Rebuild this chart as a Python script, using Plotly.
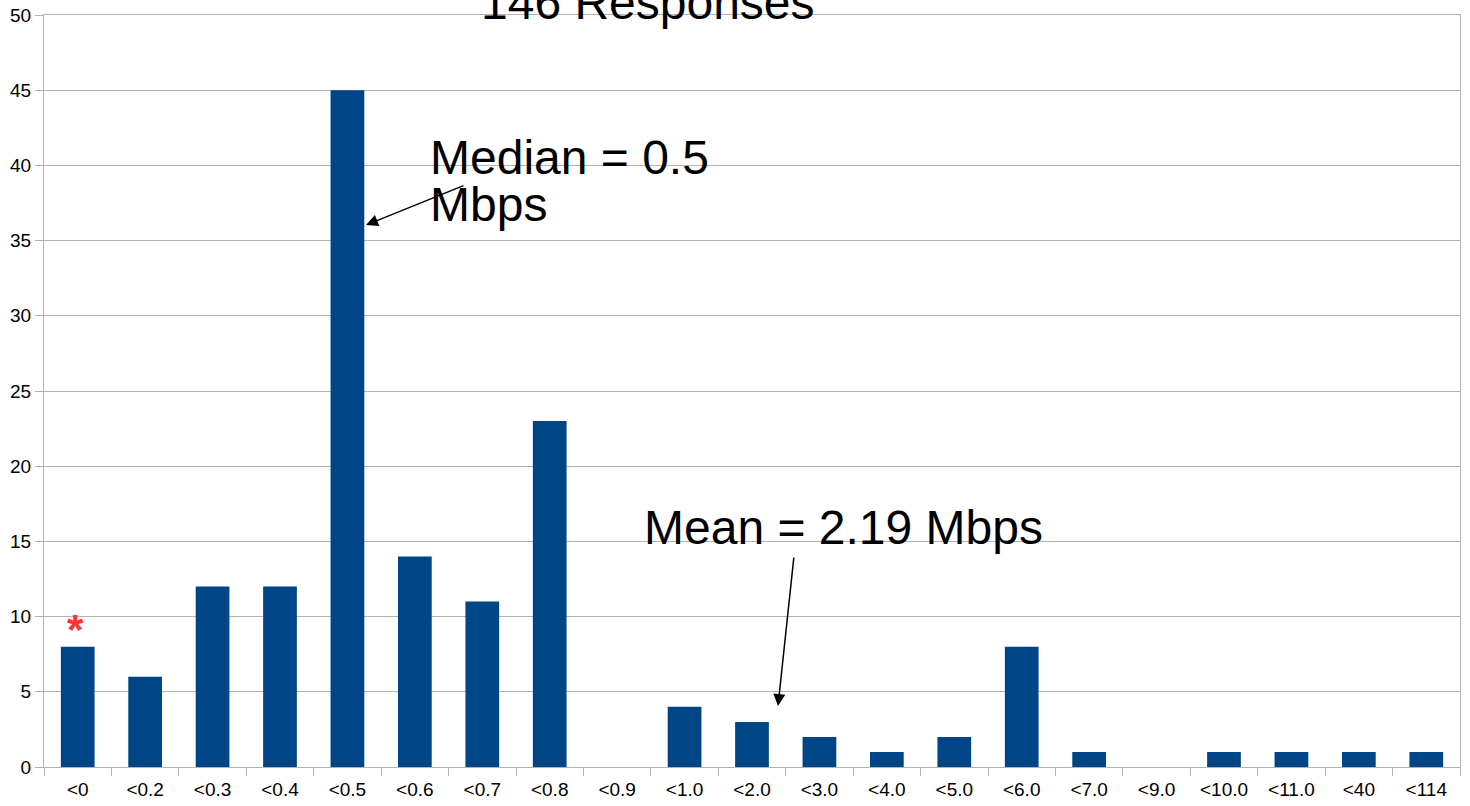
import plotly.graph_objects as go

categories = ["<0", "<0.2", "<0.3", "<0.4", "<0.5", "<0.6", "<0.7", "<0.8", "<0.9",
              "<1.0", "<2.0", "<3.0", "<4.0", "<5.0", "<6.0", "<7.0", "<9.0",
              "<10.0", "<11.0", "<40", "<114"]
counts = [8, 6, 12, 12, 45, 14, 11, 23, 0, 4, 3, 2, 1, 2, 8, 1, 0, 1, 1, 1, 1]
y_ticks = [0, 5, 10, 15, 20, 25, 30, 35, 40, 45, 50]

W, H = 1470, 806
L, R, T, B = 44, 10, 15, 39
PW, PH = W - L - R, H - T - B


def px(x):
    return (x - L) / PW


def py(y):
    return (H - B - y) / PH


FONT = "Liberation Sans, Arial, sans-serif"
fig = go.Figure()
fig.add_trace(go.Bar(x=categories, y=counts, marker=dict(color="#004586", line=dict(width=0)),
                     width=0.5, showlegend=False))

ann = []
# title (cut off at top)
ann.append(dict(text="146 Responses", x=px(648), y=py(20), xref="paper", yref="paper",
                xanchor="center", yanchor="bottom", yshift=-11, showarrow=False,
                font=dict(size=48, color="black", family=FONT)))
# median text
ann.append(dict(text="Median = 0.5", x=px(428), y=py(175), xref="paper", yref="paper",
                xanchor="left", yanchor="bottom", yshift=-11, showarrow=False,
                font=dict(size=48, color="black", family=FONT)))
ann.append(dict(text="Mbps", x=px(428), y=py(222), xref="paper", yref="paper",
                xanchor="left", yanchor="bottom", yshift=-11, showarrow=False,
                font=dict(size=48, color="black", family=FONT)))
# mean text
ann.append(dict(text="Mean = 2.19 Mbps", x=px(642), y=py(545), xref="paper", yref="paper",
                xanchor="left", yanchor="bottom", yshift=-11, showarrow=False,
                font=dict(size=48, color="black", family=FONT)))
# arrows
ann.append(dict(text="", x=px(366), y=py(225), xref="x domain", yref="y domain",
                ax=px(465), ay=py(185), axref="x domain", ayref="y domain",
                showarrow=True, arrowhead=2, arrowsize=1.6, arrowwidth=1.5, arrowcolor="black"))
ann.append(dict(text="", x=px(778), y=py(706), xref="x domain", yref="y domain",
                ax=px(794), ay=py(556), axref="x domain", ayref="y domain",
                showarrow=True, arrowhead=2, arrowsize=1.6, arrowwidth=1.5, arrowcolor="black"))
# red asterisk
ann.append(dict(text="<b>*</b>", x=categories[0], y=counts[0], xref="x", yref="y",
                xanchor="center", yanchor="bottom", yshift=-8, xshift=-2, showarrow=False,
                font=dict(size=42, color="#ff3333", family=FONT)))

fig.update_layout(
    width=W, height=H,
    margin=dict(l=L, r=R, t=T, b=B, autoexpand=False),
    paper_bgcolor="white", plot_bgcolor="white",
    bargap=0.5,
    annotations=ann,
    font=dict(family=FONT, color="black"),
)
fig.update_xaxes(type="category", automargin=False, showgrid=False, showline=True,
                 linecolor="#b3b3b3", linewidth=1,
                 mirror=True, ticks="outside", tickson="boundaries", ticklen=8, tickcolor="#b3b3b3",
                 ticklabelstandoff=5,
                 tickfont=dict(size=19, color="black", family=FONT))
fig.update_yaxes(range=[0, 50], automargin=False, tickvals=y_ticks, showgrid=True,
                 gridcolor="#b3b3b3", gridwidth=1,
                 showline=True, linecolor="#b3b3b3", linewidth=1, mirror=True,
                 ticks="outside", ticklen=8, tickcolor="#b3b3b3", zeroline=False,
                 tickfont=dict(size=19, color="black", family=FONT))

fig.write_html("out.html", config={"displayModeBar": False},
               post_script="document.body.style.margin='0';document.body.style.overflow='hidden';")
